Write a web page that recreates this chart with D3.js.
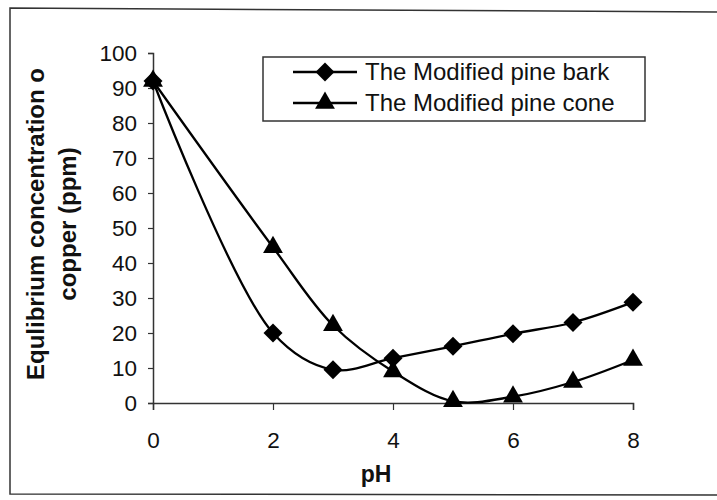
<!DOCTYPE html>
<html>
<head>
<meta charset="utf-8">
<script src="https://cdn.jsdelivr.net/npm/d3@7"></script>
<style>
  html, body { margin: 0; padding: 0; background: #fff; }
  svg { display: block; }
  text { font-family: "Liberation Sans", Arial, sans-serif; fill: #111; }
</style>
</head>
<body>
<svg id="chart" width="717" height="500"></svg>
<script>
const pH = [0, 2, 3, 4, 5, 6, 7, 8];
const pineBark = [92, 20, 9.5, 12.8, 16.2, 19.8, 23, 28.8];
const pineCone = [92, 44.5, 22.2, 9, 0.5, 1.8, 6, 12.3];
const seriesNames = ["The Modified pine bark", "The Modified pine cone"];
const xTicks = [0, 2, 4, 6, 8];
const yTicks = [0, 10, 20, 30, 40, 50, 60, 70, 80, 90, 100];
const xTitle = "pH";
const yTitleLines = ["Equlibrium concentration o", "copper (ppm)"];

const svg = d3.select("#chart");
const x = d3.scaleLinear().domain([0, 8]).range([153, 633]);
const y = d3.scaleLinear().domain([0, 100]).range([403, 53]);

// outer frame
svg.append("path")
  .attr("d", "M717,12 L10,8 L10,494 L717,495")
  .attr("fill", "none").attr("stroke", "#333").attr("stroke-width", 1.5);

// axes
const yAxis = svg.append("g").attr("transform", `translate(${x(0)},0)`)
  .call(d3.axisLeft(y).tickValues(yTicks).tickSize(5).tickPadding(11).tickFormat(d3.format("d")));
const xAxis = svg.append("g").attr("transform", `translate(0,${y(0)})`)
  .call(d3.axisBottom(x).tickValues(xTicks).tickSize(7).tickPadding(22).tickFormat(d3.format("d")));
[yAxis, xAxis].forEach(g => {
  g.select(".domain").attr("stroke", "#333").attr("stroke-width", 1.5);
  g.selectAll(".tick line").attr("stroke", "#333").attr("stroke-width", 1.2);
  g.selectAll("text").style("font-size", "22.5px").attr("fill", "#111")
    .style("font-family", '"Liberation Sans", Arial, sans-serif');
});

// axis titles
svg.append("text").attr("x", 376).attr("y", 482).attr("text-anchor", "middle")
  .style("font-size", "23px").style("font-weight", "bold").text(xTitle);
const yt = svg.append("text").attr("transform", "translate(44,224) rotate(-90)")
  .attr("text-anchor", "middle").style("font-size", "24px").style("font-weight", "bold");
yTitleLines.forEach((t, i) => {
  yt.append("tspan").attr("x", 0).attr("dy", i === 0 ? 0 : 32).text(t);
});

const line = d3.line().curve(d3.curveCatmullRom.alpha(0.5))
  .x(d => x(d[0])).y(d => y(d[1]));

const diamond = d3.symbol().type(d3.symbolSquare).size(180);
const tri = d3.symbol().type(d3.symbolTriangle).size(170);

function drawSeries(vals, sym, rotate) {
  const pts = pH.map((p, i) => [p, vals[i]]);
  svg.append("path").datum(pts).attr("d", line)
    .attr("fill", "none").attr("stroke", "#000").attr("stroke-width", 2.3);
  svg.append("g").selectAll("path").data(pts).join("path")
    .attr("d", sym)
    .attr("transform", d => `translate(${x(d[0])},${y(d[1])}) rotate(${rotate})`)
    .attr("fill", "#000");
}
drawSeries(pineCone, tri, 0);
drawSeries(pineBark, diamond, 45);

// legend
const lg = svg.append("g");
lg.append("rect").attr("x", 263).attr("y", 57).attr("width", 382).attr("height", 64)
  .attr("fill", "#fff").attr("stroke", "#333").attr("stroke-width", 1.5);
const rows = [{name: seriesNames[0], sym: diamond, rot: 45, cy: 72},
              {name: seriesNames[1], sym: tri, rot: 0, cy: 103}];
rows.forEach(r => {
  lg.append("line").attr("x1", 293).attr("x2", 357).attr("y1", r.cy).attr("y2", r.cy)
    .attr("stroke", "#000").attr("stroke-width", 2.3);
  lg.append("path").attr("d", r.sym).attr("transform", `translate(325,${r.cy}) rotate(${r.rot})`)
    .attr("fill", "#000");
  lg.append("text").attr("x", 365).attr("y", r.cy + 8).style("font-size", "24px").text(r.name);
});
</script>
</body>
</html>
